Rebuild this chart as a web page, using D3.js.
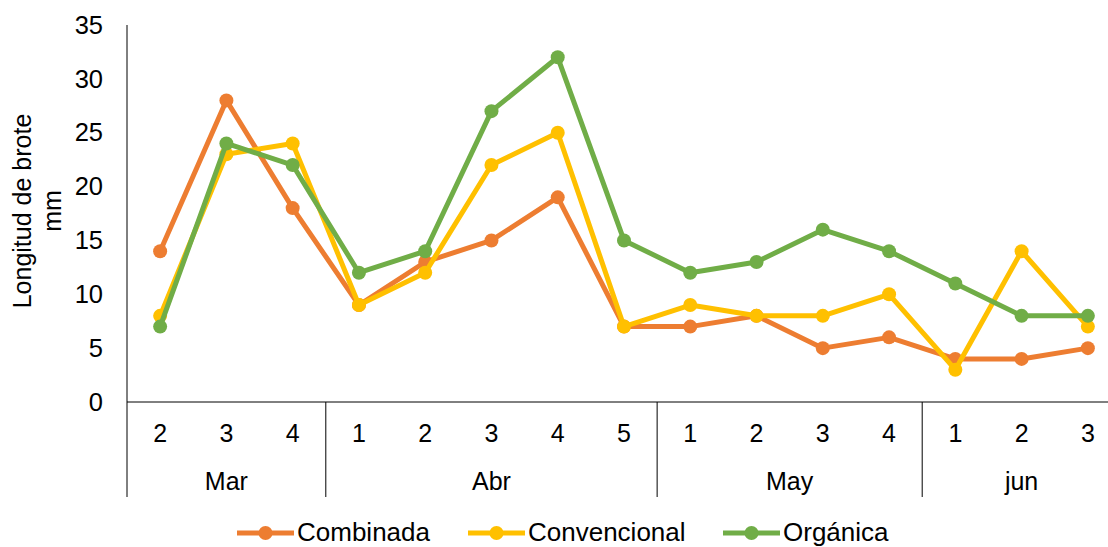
<!DOCTYPE html>
<html><head><meta charset="utf-8">
<script src="https://cdn.jsdelivr.net/npm/d3@7"></script>
<style>body{margin:0;background:#fff;} svg{display:block;font-family:"Liberation Sans",Arial,sans-serif;}</style>
</head><body><svg id="c" width="1108" height="547"></svg>
<script>
const weeks = ["2","3","4","1","2","3","4","5","1","2","3","4","1","2","3"];
const months = [{name:"Mar",n:3},{name:"Abr",n:5},{name:"May",n:4},{name:"jun",n:3}];
const combinada = [14,28,18,9,13,15,19,7,7,8,5,6,4,4,5];
const convencional = [8,23,24,9,12,22,25,7,9,8,8,10,3,14,7];
const organica = [7,24,22,12,14,27,32,15,12,13,16,14,11,8,8];
const seriesNames = ["Combinada","Convencional","Orgánica"];
const colors = ["#ED7D31","#FFC000","#70AD47"];
const yTicks = [0,5,10,15,20,25,30,35];

const FF = "Liberation Sans, Arial, sans-serif";
const svg = d3.select("#c");
const pL = 127, pR = 1121, pT = 25, pB = 402;
const idx = d3.range(weeks.length);
const x = d3.scaleBand().domain(idx).range([pL, pR]);
const y = d3.scaleLinear().domain([0,35]).range([pB, pT]);

// y axis
const ya = svg.append("g").attr("transform",`translate(${pL},0)`)
  .call(d3.axisLeft(y).tickValues(yTicks).tickSize(0).tickPadding(24));
ya.select(".domain").remove();
ya.selectAll("text").attr("font-size",25.5).attr("fill","#000").attr("font-family",FF);
svg.append("line").attr("x1",pL).attr("x2",pL).attr("y1",pT).attr("y2",497).attr("stroke","#000").attr("stroke-width",1);

// x axis
const xa = svg.append("g").attr("transform",`translate(0,${pB})`)
  .call(d3.axisBottom(x).tickFormat(i=>weeks[i]).tickSize(0).tickPadding(22));
xa.select(".domain").attr("d",`M${pL},0H1108`).attr("stroke","#000");
xa.selectAll("text").attr("font-size",25).attr("fill","#000").attr("font-family",FF);

// month groups
let start = 0;
months.forEach(m=>{
  const x0 = x(start), x1 = x(start+m.n-1)+x.bandwidth();
  svg.append("line").attr("x1",x1).attr("x2",x1).attr("y1",pB).attr("y2",497).attr("stroke","#000").attr("stroke-width",1);
  svg.append("text").attr("x",(x0+x1)/2).attr("y",490).attr("text-anchor","middle")
    .attr("font-size",25).attr("fill","#000").attr("font-family",FF).text(m.name);
  start += m.n;
});

// y title
const yt = svg.append("text").attr("transform","translate(0,211) rotate(-90)").attr("text-anchor","middle").attr("font-size",25).attr("fill","#000").attr("font-family",FF);
yt.append("tspan").attr("x",0).attr("y",31).text("Longitud de brote");
yt.append("tspan").attr("x",0).attr("y",61).text("mm");

// series
const data = [combinada, convencional, organica];
const line = d3.line().x((d,i)=>x(i)+x.bandwidth()/2).y(d=>y(d));
data.forEach((s,k)=>{
  const g = svg.append("g");
  g.append("path").datum(s).attr("d",line).attr("fill","none").attr("stroke",colors[k]).attr("stroke-width",5).attr("stroke-linejoin","round");
  g.selectAll("circle").data(s).join("circle").attr("cx",(d,i)=>x(i)+x.bandwidth()/2).attr("cy",d=>y(d)).attr("r",7).attr("fill",colors[k]);
});

// legend
const legX = [237,468,723];
seriesNames.forEach((n,k)=>{
  const g = svg.append("g").attr("transform",`translate(${legX[k]},533)`);
  g.append("line").attr("x1",0).attr("x2",57).attr("stroke",colors[k]).attr("stroke-width",5);
  g.append("circle").attr("cx",28.5).attr("cy",0).attr("r",7).attr("fill",colors[k]);
  g.append("text").attr("x",60).attr("y",8).attr("font-size",26).attr("fill","#000").attr("font-family",FF).text(n);
});
</script></body></html>
